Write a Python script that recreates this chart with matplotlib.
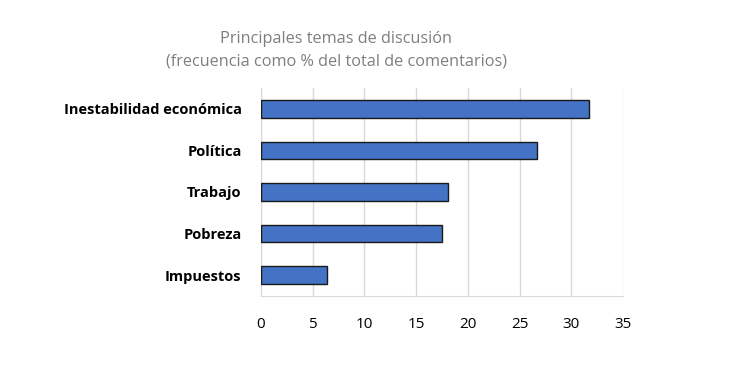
import matplotlib
matplotlib.use("Agg")
import matplotlib.pyplot as plt

categories = ["Inestabilidad económica", "Política", "Trabajo", "Pobreza", "Impuestos"]
values = [31.7, 26.7, 18.1, 17.5, 6.4]
xticks = [0, 5, 10, 15, 20, 25, 30, 35]

plt.rcParams["font.family"] = ["Open Sans", "DejaVu Sans"]

fig = plt.figure(figsize=(7.3, 3.71), dpi=100)
ax = fig.add_axes([261 / 730, 1 - 296 / 371, (623 - 261) / 730, (296 - 88) / 371])

ypos = list(range(len(categories)))
ax.barh(ypos, values, height=0.42, color="#4472C4", edgecolor="#1a1a1a", linewidth=1.0, zorder=3)
ax.set_ylim(len(categories) - 0.5, -0.5)
ax.set_xlim(0, 35)
ax.set_xticks(xticks)
ax.set_yticks(ypos)
ax.set_yticklabels(categories, fontsize=10.5, fontweight="bold", color="black")
ax.tick_params(axis="x", labelsize=11, colors="black", length=0, pad=15)
ax.tick_params(axis="y", length=0, pad=14)
ax.grid(axis="x", color="#d9d9d9", linewidth=1.0, zorder=0)
for s in ["top", "right"]:
    ax.spines[s].set_visible(False)
ax.spines["left"].set_color("#d9d9d9")
ax.spines["bottom"].set_color("#d9d9d9")

fig.text(336 / 730, 1 - 39 / 371, "Principales temas de discusión", ha="center", va="center",
         fontsize=11.7, color="#7f7f7f")
fig.text(336 / 730, 1 - 62 / 371, "(frecuencia como % del total de comentarios)", ha="center", va="center",
         fontsize=11.7, color="#7f7f7f")

fig.savefig("out.png", dpi=100)
